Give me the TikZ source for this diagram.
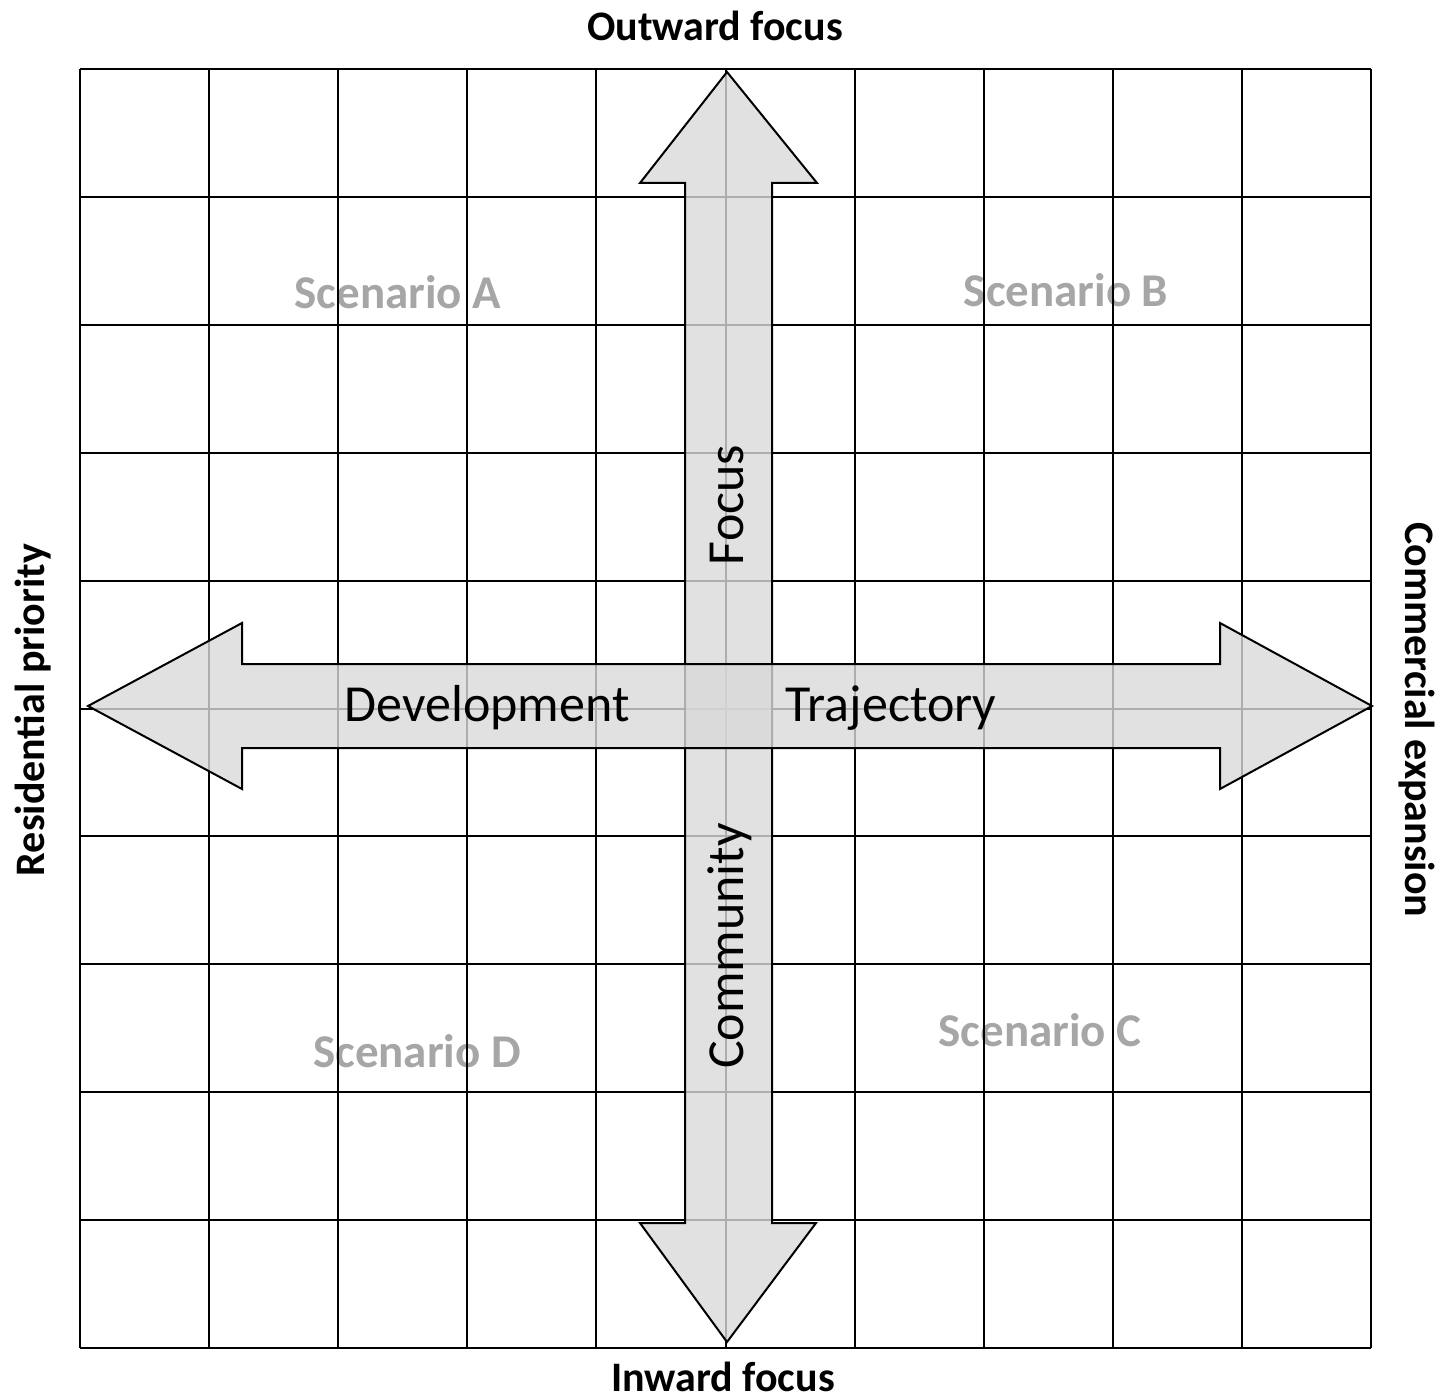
\documentclass[tikz,border=0pt]{standalone}
\usepackage{fontspec}
\setmainfont{Carlito}
\begin{document}
\begin{tikzpicture}[x=1pt,y=-1pt,
  gridline/.style={line width=2pt,black},
  bigarrow/.style={draw=black,line width=2pt,line join=miter,fill=black!15,fill opacity=0.8},
  axislabel/.style={inner sep=0pt,font=\fontsize{42}{50}\selectfont\bfseries},
  arrowlabel/.style={inner sep=0pt,font=\fontsize{52}{60}\selectfont},
  scenlabel/.style={inner sep=0pt,anchor=base,text=black!35,font=\fontsize{47}{54}\selectfont\bfseries}]
\useasboundingbox (0,0) rectangle (1440,1399);
% scenario labels (under the grid)
\node[scenlabel] (sa) at (398,308) {Scenario A};
\node[scenlabel] (sb) at (1066,306) {Scenario B};
\node[scenlabel] (sc) at (1040,1046) {Scenario C};
\node[scenlabel] (sd) at (417,1067) {Scenario D};
% grid
\foreach \i in {0,...,10}{
  \draw[gridline] ({80+\i*129.1},69) -- ({80+\i*129.1},1348);
  \draw[gridline] (80,{69+\i*127.9}) -- (1371,{69+\i*127.9});
}
% vertical arrow
\path[bigarrow] (727,72) -- (817,183) -- (772,183) -- (772,1223) -- (816,1223) -- (727,1342)
  -- (640,1223) -- (685,1223) -- (685,183) -- (640,183) -- cycle;
% horizontal arrow
\path[bigarrow] (88,706) -- (242,623) -- (242,664) -- (1220,664) -- (1220,623) -- (1372,706)
  -- (1220,789) -- (1220,748) -- (242,748) -- (242,789) -- cycle;
% arrow labels
\node[arrowlabel,anchor=base] (dev) at (487,721) {Development};
\node[arrowlabel,anchor=base] (traj) at (891,721) {Trajectory};
\node[arrowlabel,anchor=base,rotate=90] (foc) at (743,505) {Focus};
\node[arrowlabel,anchor=base,rotate=90] (com) at (743,946) {Community};
% axis labels
\node[axislabel,anchor=base] (out) at (715,41) {Outward focus};
\node[axislabel,anchor=base] (in) at (723,1391) {Inward focus};
\node[axislabel,anchor=base,rotate=90] (res) at (44,710) {Residential priority};
\node[axislabel,anchor=base,rotate=-90] (comm) at (1405,720) {Commercial expansion};
\end{tikzpicture}
\end{document}
